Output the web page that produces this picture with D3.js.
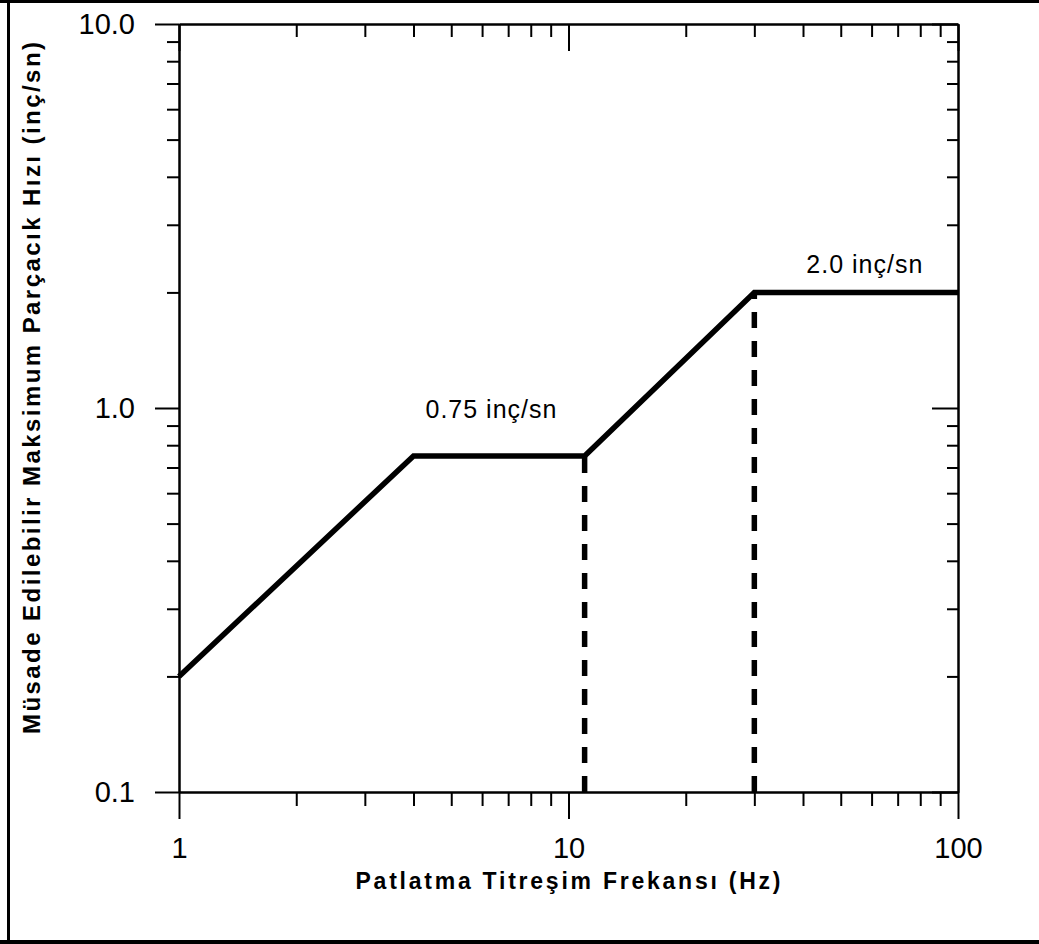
<!DOCTYPE html>
<meta charset="utf-8">
<script src="https://d3js.org/d3.v7.min.js"></script>
<style>
body { margin: 0; background: #fff; }
.axis path, .axis line { stroke: #000; stroke-width: 2px; }
.axis text { font-family: "Liberation Sans", Arial, sans-serif; font-size: 29px; fill: #000; }
.title { font-family: "Liberation Sans", Arial, sans-serif; font-weight: bold; fill: #000; }
.note { font-family: "Liberation Sans", Arial, sans-serif; font-size: 25px; letter-spacing: 1px; fill: #000; }
.limit { stroke: #000; stroke-width: 5.5px; fill: none; stroke-linejoin: miter; }
.dash { stroke: #000; stroke-width: 5.5px; stroke-dasharray: 16 13; }
</style>
<body>
<script>

// limit curve
var freq = [1, 4, 11, 30, 100]
var ppv = [0.2, 0.75, 0.75, 2.0, 2.0]

// dashed drop lines
var dashFreq = [11, 30]
var dashTop = [0.75, 2.0]

// ticks
var xMajor = [1, 10, 100]
var xMinor = [2, 3, 4, 5, 6, 7, 8, 9, 20, 30, 40, 50, 60, 70, 80, 90]
var yMajor = [0.1, 1, 10]
var yMinor = [0.2, 0.3, 0.4, 0.5, 0.6, 0.7, 0.8, 0.9, 2, 3, 4, 5, 6, 7, 8, 9]

var xTitle = "Patlatma Titreşim Frekansı (Hz)"
var yTitle = "Müsade Edilebilir Maksimum Parçacık Hızı (inç/sn)"

var W = 1039, H = 944
var plotL = 179, plotR = 958, plotT = 24, plotB = 792

var svg = d3.select("body").append("svg")
  .attr("width", W)
  .attr("height", H)

// frame
svg.append("rect").attr("x", 0).attr("y", 0).attr("width", W).attr("height", 3).attr("fill", "#000")
svg.append("rect").attr("x", 0).attr("y", H - 4).attr("width", W).attr("height", 4).attr("fill", "#000")
svg.append("rect").attr("x", 7).attr("y", 0).attr("width", 3).attr("height", H).attr("fill", "#000")

var x = d3.scaleLog().domain([1, 100]).range([plotL, plotR])
var y = d3.scaleLog().domain([0.1, 10]).range([plotB, plotT])

function addAxis(axis, tx, ty) {
  svg.append("g")
    .attr("class", "axis")
    .attr("transform", "translate(" + tx + "," + ty + ")")
    .call(axis)
}

// left: outward ticks with labels
addAxis(d3.axisLeft(y).tickValues(yMajor).tickSize(24).tickSizeOuter(0).tickPadding(20).tickFormat(d3.format(".1f")), plotL, 0)
addAxis(d3.axisLeft(y).tickValues(yMinor).tickSize(12).tickSizeOuter(0).tickFormat(""), plotL, 0)

// bottom: outward ticks with labels
addAxis(d3.axisBottom(x).tickValues(xMajor).tickSize(27).tickSizeOuter(0).tickPadding(18).tickFormat(d3.format("d")), 0, plotB)
addAxis(d3.axisBottom(x).tickValues(xMinor).tickSize(14).tickSizeOuter(0).tickFormat(""), 0, plotB)

// top: inward ticks
addAxis(d3.axisTop(x).tickValues(xMajor).tickSize(-27).tickSizeOuter(0).tickFormat(""), 0, plotT)
addAxis(d3.axisTop(x).tickValues(xMinor).tickSize(-13).tickSizeOuter(0).tickFormat(""), 0, plotT)

// right: inward ticks
addAxis(d3.axisRight(y).tickValues(yMajor).tickSize(-26).tickSizeOuter(0).tickFormat(""), plotR, 0)
addAxis(d3.axisRight(y).tickValues(yMinor).tickSize(-11).tickSizeOuter(0).tickFormat(""), plotR, 0)

// dashed lines drawn from the floor up to the curve
dashFreq.forEach(function(f, i) {
  svg.append("line")
    .attr("class", "dash")
    .attr("x1", x(f)).attr("x2", x(f))
    .attr("y1", y(0.1)).attr("y2", y(dashTop[i]))
})

var line = d3.line()
  .x(function(d) { return x(d[0]) })
  .y(function(d) { return y(d[1]) })

svg.append("path")
  .attr("class", "limit")
  .attr("d", line(d3.zip(freq, ppv)))

// annotations
svg.append("text").attr("class", "note")
  .attr("x", x(4) + 12).attr("y", y(0.75) - 38)
  .text("0.75 inç/sn")

svg.append("text").attr("class", "note")
  .attr("x", x(30) + 52).attr("y", y(2.0) - 19)
  .text("2.0 inç/sn")

// axis titles
svg.append("text").attr("class", "title")
  .attr("x", (plotL + plotR) / 2 - 0.5).attr("y", 889)
  .attr("text-anchor", "middle")
  .style("font-size", "23px")
  .attr("textLength", 425).attr("lengthAdjust", "spacing")
  .text(xTitle)

svg.append("text").attr("class", "title")
  .attr("transform", "translate(40," + 388 + ") rotate(-90)")
  .attr("text-anchor", "middle")
  .style("font-size", "24px")
  .attr("textLength", 692).attr("lengthAdjust", "spacing")
  .text(yTitle)

</script>
</body>
